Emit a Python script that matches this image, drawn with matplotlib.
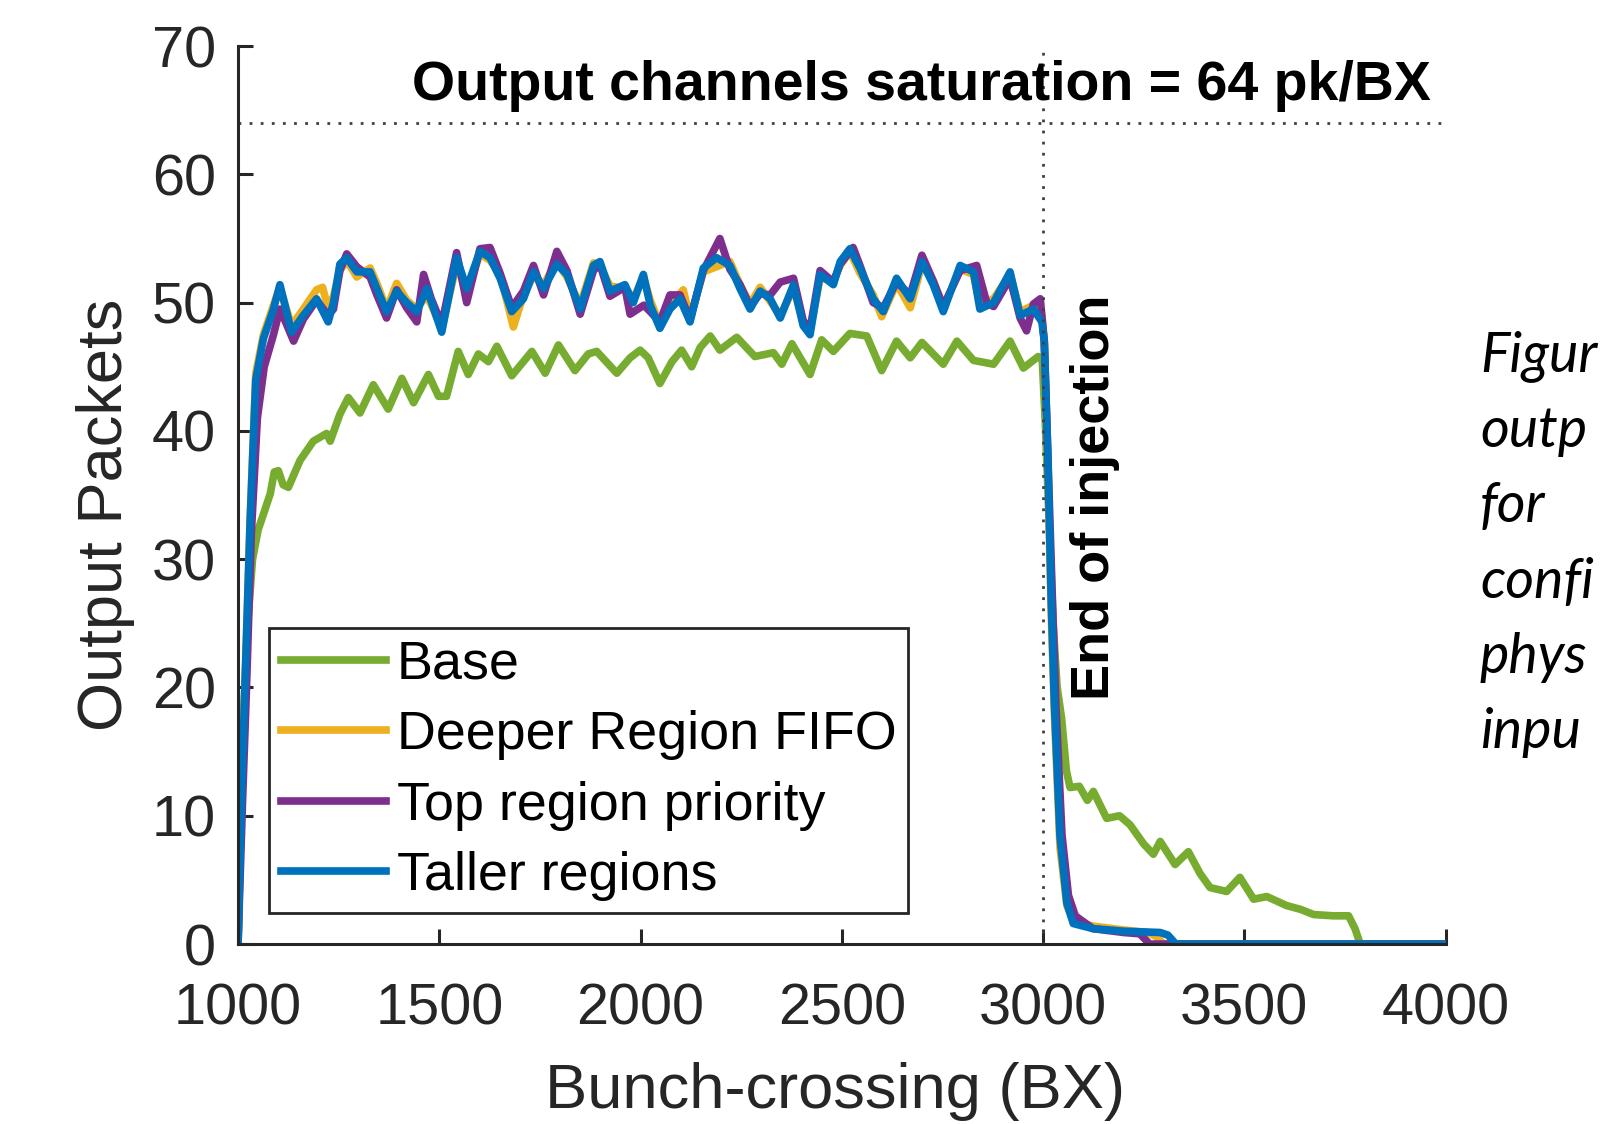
import matplotlib
matplotlib.use("Agg")
import matplotlib.pyplot as plt

plt.rcParams['font.family'] = ['Liberation Sans', 'DejaVu Sans']

# Output packets per bunch-crossing
base_x = [1000, 1006, 1014, 1024, 1036, 1050, 1063, 1080, 1090, 1100, 1112, 1125, 1154, 1187, 1220, 1229,
          1253, 1274, 1303, 1336, 1373, 1407, 1436, 1473, 1498, 1518, 1547, 1572, 1597, 1622, 1643, 1680,
          1730, 1763, 1796, 1837, 1870, 1891, 1941, 1974, 1999, 2019, 2048, 2078, 2102, 2127, 2148, 2173,
          2197, 2239, 2284, 2330, 2351, 2376, 2421, 2450, 2479, 2520, 2562, 2599, 2636, 2670, 2699, 2752,
          2786, 2827, 2877, 2918, 2951, 2988, 2998, 3005, 3015, 3025, 3035, 3046, 3058, 3067, 3090, 3110,
          3125, 3158, 3190, 3216, 3250, 3274, 3291, 3328, 3361, 3390, 3415, 3456, 3489, 3523, 3556, 3605,
          3640, 3672, 3721, 3759, 3775, 3788, 4000]
base_y = [0, 9, 18, 25, 30, 32.3, 33.5, 35.1, 36.8, 36.9, 35.8, 35.6, 37.7, 39.2, 39.8, 39.2,
          41.3, 42.6, 41.4, 43.6, 41.7, 44.1, 42.2, 44.4, 42.7, 42.7, 46.2, 44.4, 46.0, 45.4, 46.6, 44.3,
          46.2, 44.5, 46.7, 44.7, 46.0, 46.2, 44.5, 45.7, 46.3, 45.7, 43.7, 45.4, 46.3, 45.0, 46.5, 47.4,
          46.3, 47.3, 45.8, 46.1, 45.2, 46.8, 44.4, 47.1, 46.2, 47.6, 47.4, 44.7, 47.0, 45.7, 46.9, 45.2,
          47.0, 45.5, 45.2, 47.0, 44.9, 45.8, 45.5, 41, 33, 25, 20, 17.6, 13.5, 12.2, 12.3, 11.2,
          11.9, 9.8, 10.0, 9.3, 7.8, 7.0, 8.0, 6.2, 7.2, 5.5, 4.4, 4.1, 5.2, 3.5, 3.7, 3.0,
          2.7, 2.3, 2.2, 2.2, 1.2, 0, 0]

fifo_x = [1000, 1009, 1018, 1030, 1044, 1063, 1088, 1104, 1133, 1162, 1195, 1210, 1224, 1237, 1253, 1270,
          1295, 1328, 1345, 1369, 1394, 1419, 1444, 1469, 1506, 1543, 1568, 1601, 1626, 1651, 1684, 1709,
          1734, 1759, 1792, 1817, 1850, 1883, 1899, 1924, 1961, 1982, 2007, 2024, 2048, 2073, 2106, 2123,
          2156, 2189, 2222, 2247, 2272, 2297, 2322, 2347, 2380, 2404, 2421, 2446, 2479, 2496, 2520, 2545,
          2578, 2599, 2636, 2670, 2699, 2727, 2752, 2794, 2827, 2843, 2877, 2918, 2943, 2976, 2997, 3003,
          3012, 3020, 3028, 3042, 3059, 3075, 3124, 3200, 3260, 3280, 3300, 4000]
fifo_y = [0, 12, 21, 33, 44.5, 47.5, 49.8, 51.2, 48.2, 49.5, 51.0, 51.2, 49.5, 50.5, 52.5, 53.3,
          52.0, 52.7, 51.5, 49.5, 51.5, 50.2, 49.5, 50.6, 48.0, 53.0, 50.8, 53.8, 53.3, 52.2, 48.1, 50.6,
          52.1, 51.4, 53.2, 52.0, 49.8, 53.1, 52.9, 51.3, 51.1, 50.3, 52.0, 50.2, 48.3, 49.8, 51.0, 48.8,
          52.4, 52.8, 53.2, 51.4, 49.9, 51.2, 50.1, 49.0, 51.1, 48.5, 47.8, 51.9, 51.7, 52.9, 54.0, 52.3,
          50.6, 48.9, 51.5, 49.6, 53.0, 51.7, 49.6, 52.6, 52.2, 49.8, 50.3, 52.2, 49.3, 49.8, 49.0, 47,
          37, 26, 18, 7.5, 3.0, 1.8, 1.4, 1.1, 0.9, 0.6, 0, 0]

top_x = [1000, 1011, 1021, 1033, 1048, 1065, 1088, 1104, 1118, 1138, 1162, 1195, 1224, 1237, 1253, 1270,
         1295, 1328, 1345, 1369, 1394, 1419, 1444, 1461, 1480, 1506, 1543, 1568, 1601, 1626, 1651, 1680,
         1709, 1734, 1759, 1792, 1817, 1850, 1883, 1899, 1924, 1961, 1974, 2008, 2024, 2048, 2073, 2098,
         2123, 2156, 2197, 2222, 2247, 2272, 2297, 2322, 2347, 2380, 2404, 2421, 2446, 2479, 2496, 2528,
         2545, 2578, 2603, 2636, 2670, 2699, 2727, 2752, 2794, 2835, 2860, 2877, 2918, 2943, 2959, 2976,
         2993, 3003, 3012, 3022, 3032, 3047, 3063, 3080, 3124, 3200, 3240, 3265, 4000]
top_y = [0, 11, 20, 32, 41, 45, 47.5, 49.5, 48.5, 47.0, 48.7, 50.2, 49.0, 49.5, 52.5, 53.8,
         52.8, 52.0, 50.6, 48.8, 51.0, 49.6, 48.5, 52.2, 50.3, 48.3, 53.9, 50.0, 54.2, 54.3, 52.3, 49.6,
         50.9, 52.9, 50.6, 54.0, 52.5, 49.1, 52.5, 53.0, 50.5, 51.2, 49.1, 49.8, 49.3, 48.5, 50.6, 50.6,
         48.7, 52.5, 55.0, 52.6, 51.4, 49.7, 50.7, 50.6, 51.6, 51.9, 48.6, 47.9, 52.5, 51.6, 53.0, 54.3,
         52.9, 50.0, 49.6, 51.6, 50.6, 53.7, 51.7, 49.7, 52.5, 52.9, 50.0, 49.7, 51.9, 48.8, 47.8, 49.9,
         50.3, 47, 38, 28, 18.5, 8.5, 3.8, 2.2, 1.2, 0.9, 0.8, 0, 0]

taller_x = [1000, 1009, 1018, 1030, 1044, 1063, 1088, 1104, 1133, 1162, 1195, 1224, 1237, 1253, 1270, 1295,
            1328, 1345, 1369, 1394, 1419, 1444, 1469, 1506, 1543, 1568, 1601, 1626, 1651, 1680, 1709, 1734,
            1759, 1792, 1817, 1850, 1883, 1899, 1924, 1961, 1982, 2007, 2024, 2048, 2073, 2098, 2123, 2156,
            2189, 2222, 2247, 2272, 2297, 2322, 2347, 2380, 2404, 2421, 2446, 2479, 2496, 2520, 2545, 2578,
            2603, 2636, 2670, 2699, 2727, 2752, 2794, 2827, 2843, 2877, 2918, 2943, 2976, 2997, 3003, 3012,
            3020, 3028, 3042, 3059, 3075, 3124, 3200, 3291, 3310, 3330, 4000]
taller_y = [0, 12, 21, 33, 44, 47.2, 49.5, 51.4, 47.7, 49.0, 50.3, 48.5, 50.0, 53.0, 53.5, 52.4,
            52.4, 51.1, 49.3, 50.9, 50.0, 49.3, 51.1, 47.7, 53.5, 51.1, 54.0, 53.5, 51.9, 49.3, 50.3, 52.4,
            51.1, 53.0, 52.2, 49.5, 52.9, 53.2, 50.9, 51.4, 50.0, 52.2, 49.8, 48.0, 49.5, 50.3, 48.5, 52.7,
            53.5, 52.9, 51.1, 49.5, 50.9, 50.3, 48.8, 51.4, 48.2, 47.5, 52.2, 51.4, 53.2, 54.2, 52.7, 50.3,
            49.3, 51.9, 50.3, 53.2, 51.4, 49.3, 52.9, 52.4, 49.5, 50.0, 52.4, 49.0, 49.5, 48.5, 47, 38,
            27, 18.8, 8.4, 3.2, 1.6, 1.2, 1.0, 0.9, 0.7, 0, 0]

labels = ["Base", "Deeper Region FIFO", "Top region priority", "Taller regions"]
colors = ["#77AC30", "#EDB120", "#7E2F8E", "#0072BD"]

saturation = 64
injection_end = 3000

# caption of the source document, only its visible start
caption_lines = ["Figur", "outp", "for", "confi", "phys", "inpu"]

fig = plt.figure(figsize=(16.03, 11.24), dpi=100)
ax = fig.add_axes([0.1485, 0.1601, 0.7533, 0.7989])

series = [(base_x, base_y), (fifo_x, fifo_y), (top_x, top_y), (taller_x, taller_y)]
for (xs, ys), lab, col in zip(series, labels, colors):
    ax.plot(xs, ys, color=col, lw=5.5, label=lab, solid_joinstyle='round')

# saturation and end-of-injection markers
ax.axhline(saturation, color="#404040", lw=2, linestyle=(0, (1, 3)), dash_capstyle='butt')
ax.axvline(injection_end, color="#404040", lw=2, linestyle=(0, (1, 3)), dash_capstyle='butt')

ax.text(3964, 65.8, "Output channels saturation = 64 pk/BX", ha='right', va='baseline',
        fontsize=40, fontweight='bold', color='black')
ax.text(3130, 34.8, "End of injection", rotation=90, ha='center', va='center',
        fontsize=39, fontweight='bold', color='black')

ax.set_xlim(1000, 4000)
ax.set_ylim(0, 70)
ax.set_xticks([1000, 1500, 2000, 2500, 3000, 3500, 4000])
ax.set_yticks(range(0, 71, 10))
for side in ['top', 'right']:
    ax.spines[side].set_visible(False)
for side in ['left', 'bottom']:
    ax.spines[side].set_linewidth(2.2)
    ax.spines[side].set_color('#262626')
ax.tick_params(axis='both', direction='in', length=11, width=2.2, colors='#262626', labelsize=41.5)
ax.tick_params(axis='x', pad=28)
ax.tick_params(axis='y', pad=16)

ax.set_xlabel("Bunch-crossing (BX)", fontsize=45.5, color='#262626', labelpad=18)
ax.xaxis.label.set_x(0.494)
ax.set_ylabel("Output Packets", fontsize=45.5, color='#262626')
ax.yaxis.set_label_coords(-0.085, 0.478)

leg = ax.legend(loc='lower left', bbox_to_anchor=(0.0257, 0.0345), borderaxespad=0,
                fontsize=38.8, handlelength=1.95, handletextpad=0.2, labelspacing=0.38,
                borderpad=0.22, fancybox=False, framealpha=1)
leg.get_frame().set_edgecolor('#262626')
leg.get_frame().set_linewidth(2)

for i, line in enumerate(caption_lines):
    fig.text(1480 / 1603, 1 - (371 + 75.5 * i) / 1124, line, ha='left', va='baseline',
             fontsize=40, style='italic', family=['Lato', 'DejaVu Sans'], color='black')

fig.savefig("out.png", dpi=100)
